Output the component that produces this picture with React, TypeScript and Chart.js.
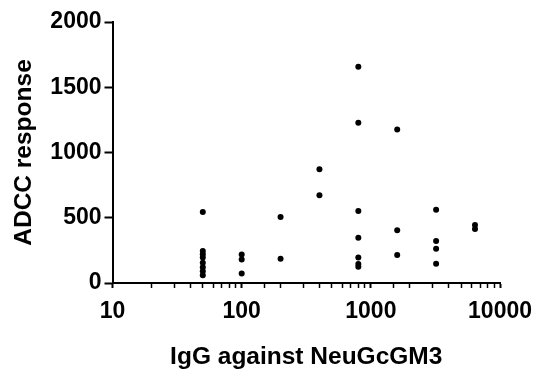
import React, { useEffect, useRef } from "react";
import { Chart, registerables } from "chart.js";

Chart.register(...registerables);

const igGTiters = [
  50, 50, 50, 50, 50, 50, 50, 50,
  100, 100, 100,
  200, 200,
  400, 400,
  800, 800, 800, 800, 800, 800, 800,
  1600, 1600, 1600,
  3200, 3200, 3200, 3200,
  6400, 6400,
];
const adccResponse = [
  545, 245, 220, 195, 155, 120, 90, 60,
  218, 180, 72,
  505, 185,
  872, 672,
  1657, 1228, 552, 346, 196, 146, 124,
  1177, 404, 214,
  562, 321, 262, 147,
  445, 414,
];
const xTitle = "IgG against NeuGcGM3";
const yTitle = "ADCC response";
const yTicks = [0, 500, 1000, 1500, 2000];

const FONT = "'Liberation Sans', Arial, Helvetica, sans-serif";

const isPow10 = (v: number) => {
  const l = Math.log10(v);
  return Math.abs(l - Math.round(l)) < 1e-9;
};

export default function App() {
  const ref = useRef<HTMLCanvasElement | null>(null);

  useEffect(() => {
    if (!ref.current) return;
    const points = igGTiters.map((x, i) => ({ x, y: adccResponse[i] }));
    const chart = new Chart(ref.current, {
      type: "scatter",
      data: {
        datasets: [
          {
            data: points,
            backgroundColor: "#000",
            borderColor: "#000",
            pointRadius: 3,
            pointHoverRadius: 3,
            borderWidth: 0,
          },
        ],
      },
      options: {
        responsive: false,
        animation: false,
        events: [],
        layout: { padding: { top: 22, right: 37.5, left: 0, bottom: 0 } },
        plugins: { legend: { display: false }, tooltip: { enabled: false } },
        scales: {
          x: {
            type: "logarithmic",
            min: 10,
            max: 10000,
            afterFit: (s: any) => {
              s.height = 90;
            },
            border: { display: true, color: "#000", width: 2 },
            grid: {
              drawOnChartArea: false,
              drawTicks: true,
              tickLength: 5,
              tickColor: "#000",
              tickWidth: (ctx: any) => (ctx.tick && isPow10(ctx.tick.value) ? 2 : 1.5),
            },
            ticks: {
              autoSkip: false,
              maxRotation: 0,
              minRotation: 0,
              padding: 10,
              color: "#000",
              font: { family: FONT, size: 23, weight: "bold" },
              callback: (value: any) => {
                const v = Number(value);
                return isPow10(v) ? String(v) : "";
              },
            },
            title: {
              display: true,
              text: xTitle,
              color: "#000",
              font: { family: FONT, size: 24.5, weight: "bold" },
              padding: { top: 0, bottom: 1 },
            },
          },
          y: {
            min: 0,
            max: 2000,
            afterFit: (s: any) => {
              s.width = 112.5;
            },
            afterBuildTicks: (s: any) => {
              s.ticks = yTicks.map((v) => ({ value: v }));
            },
            border: { display: true, color: "#000", width: 2 },
            grid: {
              drawOnChartArea: false,
              drawTicks: true,
              tickLength: 8,
              tickColor: "#000",
              tickWidth: 2,
            },
            ticks: {
              padding: 3,
              color: "#000",
              font: { family: FONT, size: 23, weight: "bold" },
              callback: (value: any) => String(value),
            },
            title: {
              display: true,
              text: yTitle,
              color: "#000",
              font: { family: FONT, size: 24.5, weight: "bold" },
              padding: { top: 10, bottom: 0 },
            },
          },
        },
      },
    });
    return () => chart.destroy();
  }, []);

  return (
    <div style={{ position: "absolute", left: 0, top: 0, width: 542, height: 373, background: "#fff" }}>
      <canvas ref={ref} width={542} height={373} />
    </div>
  );
}
